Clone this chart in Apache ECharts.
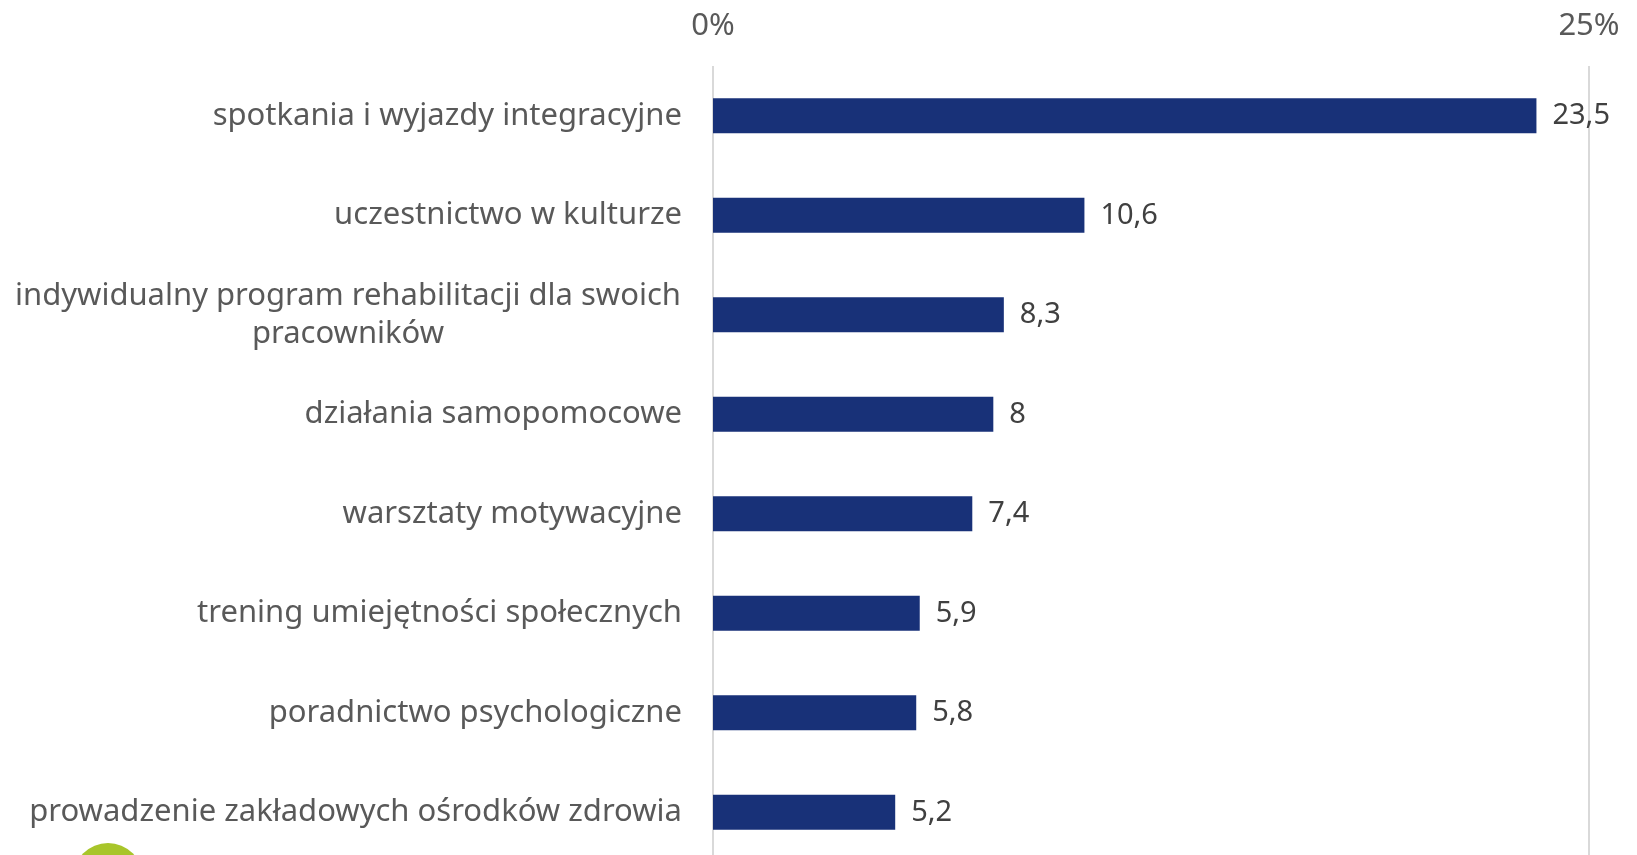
<!DOCTYPE html>
<html lang="pl">
<head>
    <meta charset="UTF-8">
    <title>Działania</title>
    <script src="https://cdn.jsdelivr.net/npm/echarts@6/dist/echarts.min.js"></script>
    <style>
        html, body { margin: 0; padding: 0; background: #fff; overflow: hidden; }
        /* wykres jest przycięty u dołu, tak jak w oryginale */
        #main { width: 1637px; height: 862px; }
    </style>
</head>
<body>
    <div id="main"></div>
    <script type="text/javascript">
        // kategorie od góry do dołu
        var categories = [
            'spotkania i wyjazdy integracyjne',
            'uczestnictwo w kulturze',
            'indywidualny program rehabilitacji dla swoich\npracowników',
            'działania samopomocowe',
            'warsztaty motywacyjne',
            'trening umiejętności społecznych',
            'poradnictwo psychologiczne',
            'prowadzenie zakładowych ośrodków zdrowia'
        ];
        var values = [23.5, 10.6, 8.3, 8, 7.4, 5.9, 5.8, 5.2];
        var axisMin = 0, axisMax = 25, axisStep = 25;

        var font = '"Noto Sans"';
        var myChart = echarts.init(document.getElementById('main'));
        myChart.setOption({
            backgroundColor: '#ffffff',
            animation: false,
            grid: { left: 713, right: 48, top: 66, bottom: 0, containLabel: false },
            xAxis: {
                type: 'value',
                position: 'top',
                min: axisMin,
                max: axisMax,
                interval: axisStep,
                axisLine: { show: false },
                axisTick: { show: false },
                splitLine: { show: true, lineStyle: { color: '#d9d9d9', width: 2 } },
                axisLabel: {
                    margin: 24,
                    fontFamily: font,
                    fontSize: 31,
                    color: '#595959',
                    formatter: function (v) { return v + '%'; }
                }
            },
            yAxis: {
                type: 'category',
                inverse: true,
                data: categories,
                axisLine: { show: false },
                axisTick: { show: false },
                axisLabel: {
                    margin: 31,
                    fontFamily: font,
                    fontSize: 31,
                    color: '#595959',
                    lineHeight: 38,
                    formatter: function (v) {
                        if (v.indexOf('\n') < 0) return v;
                        // wielowierszowe etykiety wyśrodkowane w bloku
                        return v.split('\n').map(function (s) { return '{c|' + s + '}'; }).join('\n');
                    },
                    rich: {
                        c: { width: 668, align: 'center', fontFamily: font, fontSize: 31, color: '#595959', lineHeight: 38 }
                    }
                }
            },
            series: [{
                type: 'bar',
                data: values,
                barWidth: 35,
                itemStyle: { color: '#183178' },
                label: {
                    show: true,
                    position: 'right',
                    distance: 16,
                    fontFamily: font,
                    fontSize: 29,
                    color: '#404040',
                    formatter: function (p) { return String(p.value).replace('.', ','); }
                }
            }],
            graphic: [{
                type: 'circle',
                shape: { cx: 108, cy: 878, r: 35 },
                style: { fill: '#a8c52a' },
                silent: true
            }]
        });
    </script>
</body>
</html>
